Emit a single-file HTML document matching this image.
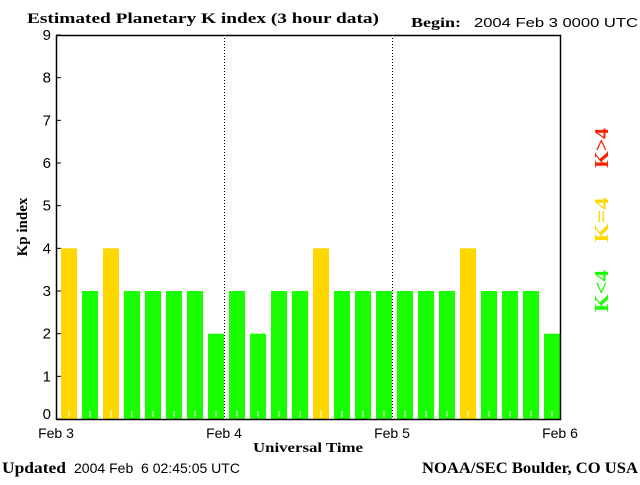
<!DOCTYPE html>
<html><head><style>
body{margin:0;background:#fff;}
svg text{font-family:"Liberation Sans",sans-serif;}
.serif{font-family:"Liberation Serif",serif;font-weight:bold;}
</style></head><body>
<svg width="640" height="480" xmlns="http://www.w3.org/2000/svg">
<text class="serif" x="27" y="23" font-size="15" textLength="352" lengthAdjust="spacingAndGlyphs">Estimated Planetary K index (3 hour data)</text>
<text class="serif" x="411" y="27" font-size="14" textLength="50" lengthAdjust="spacingAndGlyphs">Begin:</text>
<text x="474" y="27" font-size="13" textLength="164" lengthAdjust="spacingAndGlyphs">2004 Feb 3 0000 UTC</text>
<g id="plot"></g>
<text class="serif" transform="translate(27,227) rotate(-90)" text-anchor="middle" font-size="15">Kp index</text>
<text class="serif" x="253" y="452" font-size="14" textLength="110" lengthAdjust="spacingAndGlyphs">Universal Time</text>
<text class="serif" x="2" y="473" font-size="16" textLength="64" lengthAdjust="spacingAndGlyphs">Updated</text>
<text x="74" y="473" font-size="14" textLength="166" lengthAdjust="spacingAndGlyphs" xml:space="preserve">2004 Feb  6 02:45:05 UTC</text>
<text class="serif" x="422" y="473" font-size="16" textLength="216" lengthAdjust="spacingAndGlyphs">NOAA/SEC Boulder, CO USA</text>
<text class="serif" transform="translate(608,148) rotate(-90)" text-anchor="middle" font-size="20" fill="#ff2000" textLength="40" lengthAdjust="spacingAndGlyphs">K&gt;4</text>
<text class="serif" transform="translate(608,220) rotate(-90)" text-anchor="middle" font-size="20" fill="#ffd700" textLength="45" lengthAdjust="spacingAndGlyphs">K=4</text>
<text class="serif" transform="translate(608,291) rotate(-90)" text-anchor="middle" font-size="20" fill="#1aff00" textLength="42" lengthAdjust="spacingAndGlyphs">K&lt;4</text>
</svg>
<script>
const kpValues=[4,3,4,3,3,3,3,2,3,2,3,3,4,3,3,3,3,3,3,4,3,3,3,2];
const yTicks=[0,1,2,3,4,5,6,7,8,9];
const dayLabels=["Feb 3","Feb 4","Feb 5","Feb 6"];
const NS="http://www.w3.org/2000/svg";
const L=56,R=560,T=35,B=419;
const ymax=9;
function y(v){return B-(B-T)*v/ymax;}
function xDay(d){return L+(R-L)*d/(dayLabels.length-1);}
function xBar(i){return L+(R-L)*i/kpValues.length;}
const g=document.getElementById('plot');
function mk(tag,attrs){const e=document.createElementNS(NS,tag);for(const k in attrs)e.setAttribute(k,attrs[k]);g.appendChild(e);return e;}
const pitch=(R-L)/kpValues.length;
kpValues.forEach((v,i)=>{
 const col=v>4?'#ff2000':(v==4?'#ffd700':'#1aff00');
 const r=mk('rect',{x:xBar(i)+5,y:y(v),width:pitch-5,height:B-y(v),fill:col});
 
 
 const t=mk('line',{x1:xBar(i)+5+(pitch-5)/2,x2:xBar(i)+5+(pitch-5)/2,y1:B-2,y2:B-8,stroke:'#fff','stroke-width':1});
 
 
});
for(let d=1;d<dayLabels.length-1;d++){
 const l=mk('line',{x1:xDay(d)+0.5,x2:xDay(d)+0.5,y1:T,y2:B,stroke:'#000','stroke-dasharray':'1,2'});
 
 
}
const fr=mk('rect',{x:L+0.5,y:T+0.5,width:R-L,height:B-T,fill:'none',stroke:'#000','stroke-width':1.5});


yTicks.forEach(v=>{
 const tk=mk('line',{x1:L,x2:L+5,y1:y(v),y2:y(v),stroke:'#000'});
 
 
 const tx=mk('text',{x:L-5,y:y(v)+(v===0?0:5),'text-anchor':'end','font-size':15});
 tx.textContent=v;
 
 
});
dayLabels.forEach((s,d)=>{
 const tx=mk('text',{x:xDay(d),y:438,'text-anchor':'middle','font-size':14});
 tx.textContent=s;
 
 
});
</script>
</body></html>
